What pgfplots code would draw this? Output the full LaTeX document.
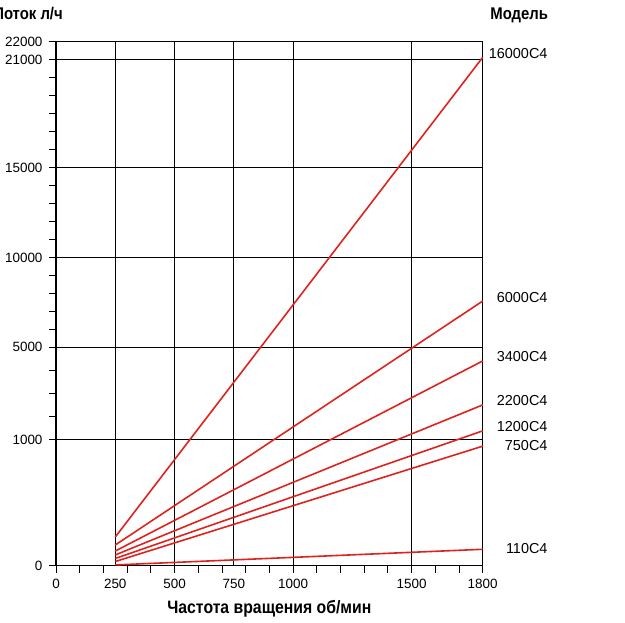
\documentclass[border=0pt]{standalone}
\usepackage{pgfplots}
\pgfplotsset{compat=1.18}
\usepackage{fontspec}
\setmainfont{Liberation Sans}
\newfontfamily\condbf[FakeStretch=0.88]{Liberation Sans}
\definecolor{pumpred}{RGB}{222,35,30}
\begin{document}
\begin{tikzpicture}[
  lbl/.style={anchor=base east, inner sep=0pt, xshift=65.6bp, yshift=-1bp, black, font=\fontsize{14.5}{16}\selectfont},
  ttl/.style={anchor=base east, inner sep=0pt, font=\condbf\bfseries\fontsize{17}{20}\selectfont, yshift=22.5bp},
  rl/.style={pumpred, line width=1.6bp},
]
\begin{axis}[
  scale only axis, width=426.7bp, height=524bp,
  xmin=0, xmax=1800, ymin=0, ymax=22000,
  clip=false,
  % piecewise linear flow scale, as drawn in the original
  y coord trafo/.code={\begingroup\pgfkeys{/pgf/fpu=true,/pgf/fpu/output format=fixed}%
    \pgfmathparse{ifthenelse(#1<=1000, 0.1264*#1, ifthenelse(#1<=5000, 126.4+0.02308*(#1-1000), 218.7+0.018*(#1-5000)))}%
    \pgfmathsmuggle\pgfmathresult\endgroup},
  xtick={0,250,500,750,1000,1500,1800},
  xticklabels={0,250,500,750,1000,1500,1800},
  minor xtick={0,100,...,1800},
  ytick={0,1000,5000,10000,15000,21000,22000},
  yticklabels={0,1000,5000,10000,15000,21000,22000},
  minor ytick={2000,3000,4000,6000,7000,8000,9000,11000,12000,13000,14000,16000,17000,18000,19000,20000},
  tick align=outside, xtick pos=bottom, ytick pos=left,
  major tick length=7bp, minor tick length=7bp,
  major x tick style={draw=none},
  xmajorgrids, ymajorgrids,
  major grid style={black, line width=0.8bp},
  axis line style={line width=1.3bp},
  tick style={black, line width=0.8bp},
  tick label style={font=\fontsize{13.5}{15}\selectfont},
  yticklabel style={xshift=-3bp},
  xticklabel style={yshift=-2.5bp},
  xlabel={\condbf\bfseries Частота вращения об/мин},
  xlabel style={font=\fontsize{18}{20}\selectfont, yshift=-5bp},
]
\addplot[rl] coordinates {(250,227) (1800,21128)} node[lbl, pos=1] {16000C4};
\addplot[rl] coordinates {(250,164) (1800,7572)} node[lbl, pos=1] {6000C4};
\addplot[rl] coordinates {(250,116) (1800,4406)} node[lbl, pos=1] {3400C4};
\addplot[rl] coordinates {(250,85) (1800,2499)} node[lbl, pos=1] {2200C4};
\addplot[rl] coordinates {(250,57) (1800,1373)} node[lbl, pos=1] {1200C4};
\addplot[rl] coordinates {(250,33) (1800,947)} node[lbl, pos=1, yshift=-3bp] {750C4};
\addplot[rl] coordinates {(250,6) (1800,130)} node[lbl, pos=1, yshift=-3bp] {110C4};
\node[ttl, xshift=7bp] at (rel axis cs:0,1) {Поток л/ч};
\node[ttl, xshift=65.6bp] at (rel axis cs:1,1) {Модель};
\coordinate (ll) at (rel axis cs:0,0);
\end{axis}
\pgfresetboundingbox
\path[use as bounding box] ([xshift=-56bp,yshift=-57.3bp]ll) rectangle ++(625bp,623bp);
\end{tikzpicture}
\end{document}
